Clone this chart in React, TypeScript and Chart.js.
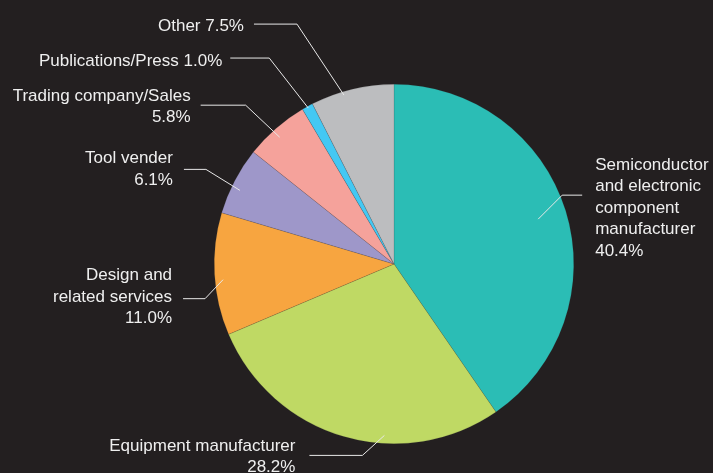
import React, { useEffect, useRef } from "react";
import { Chart, registerables } from "chart.js";

Chart.register(...registerables);

const categories = [
  "Semiconductor\nand electronic\ncomponent\nmanufacturer",
  "Equipment manufacturer",
  "Design and\nrelated services",
  "Tool vender",
  "Trading company/Sales",
  "Publications/Press",
  "Other",
];
const values = [40.4, 28.2, 11.0, 6.1, 5.8, 1.0, 7.5];
const colors = ["#2bbdb5", "#bfd964", "#f7a540", "#9e97c9", "#f5a29b", "#44c8f3", "#bcbdbf"];

// label layout (styles): anchor radius fraction, angle shift (deg), elbow offset, horizontal length, text gap, text vertical shift, percent inline
const labelLayout = [
  { rf: 0.84, da: 0, ex: 24, ey: -24, len: 20, gap: 13, tdy: 13, inline: false },
  { rf: 0.955, da: -13, ex: -22, ey: 20, len: 53, gap: 14, tdy: 1.5, inline: false },
  { rf: 0.955, da: -2, ex: -18, ey: 19, len: 22, gap: 11, tdy: -1.5, inline: false },
  { rf: 0.95, da: -2, ex: -34, ey: -21, len: 22, gap: 11, tdy: 0, inline: false },
  { rf: 0.95, da: -1, ex: -34, ey: -32, len: 45, gap: 10, tdy: 1.5, inline: false },
  { rf: 0.99, da: 0, ex: -39, ey: -50, len: 39, gap: 8, tdy: 3, inline: true },
  { rf: 0.98, da: -3, ex: -47, ey: -71, len: 43, gap: 10, tdy: 2, inline: true },
];

const labelPlugin = {
  id: "leaderLabels",
  afterDraw(chart: any) {
    const ctx = chart.ctx;
    const meta = chart.getDatasetMeta(0);
    ctx.save();
    ctx.font = '17px "Liberation Sans", Arial, sans-serif';
    ctx.fillStyle = "#efefef";
    ctx.strokeStyle = "#e8e8e8";
    ctx.lineWidth = 1;
    ctx.textBaseline = "middle";
    meta.data.forEach((arc: any, i: number) => {
      const p = arc.getProps(["x", "y", "startAngle", "endAngle", "outerRadius"], true);
      const L = labelLayout[i];
      const mid = (p.startAngle + p.endAngle) / 2 + (L.da * Math.PI) / 180;
      const sx = p.x + Math.cos(mid) * p.outerRadius * L.rf;
      const sy = p.y + Math.sin(mid) * p.outerRadius * L.rf;
      const exx = sx + L.ex;
      const eyy = sy + L.ey;
      const right = L.ex > 0;
      const hx = exx + (right ? L.len : -L.len);
      ctx.beginPath();
      ctx.moveTo(sx, sy);
      ctx.lineTo(exx, eyy);
      ctx.lineTo(hx, eyy);
      ctx.stroke();
      const pct = values[i].toFixed(1) + "%";
      const text = categories[i] + (L.inline ? " " : "\n") + pct;
      const lines = text.split("\n");
      const lh = 21.6;
      const tx = hx + (right ? L.gap : -L.gap);
      ctx.textAlign = right ? "left" : "right";
      const cy = eyy + L.tdy;
      const y0 = cy - ((lines.length - 1) * lh) / 2;
      lines.forEach((ln, k) => ctx.fillText(ln, tx, y0 + k * lh));
    });
    ctx.restore();
  },
};

export default function App() {
  const ref = useRef<HTMLCanvasElement>(null);
  useEffect(() => {
    document.body.style.margin = "0";
    const chart = new Chart(ref.current!, {
      type: "pie",
      data: {
        labels: categories,
        datasets: [
          {
            data: values,
            backgroundColor: colors,
            borderWidth: 0.5,
            borderColor: "rgba(60,60,60,0.3)",
          },
        ],
      },
      options: {
        animation: false,
        responsive: true,
        maintainAspectRatio: false,
        layout: { padding: { left: 214, right: 139, top: 84, bottom: 29 } },
        plugins: { legend: { display: false }, tooltip: { enabled: false } },
      },
      plugins: [labelPlugin],
    });
    return () => chart.destroy();
  }, []);
  return (
    <div style={{ width: 713, height: 473, background: "#231f20", position: "relative" }}>
      <canvas ref={ref} />
    </div>
  );
}
